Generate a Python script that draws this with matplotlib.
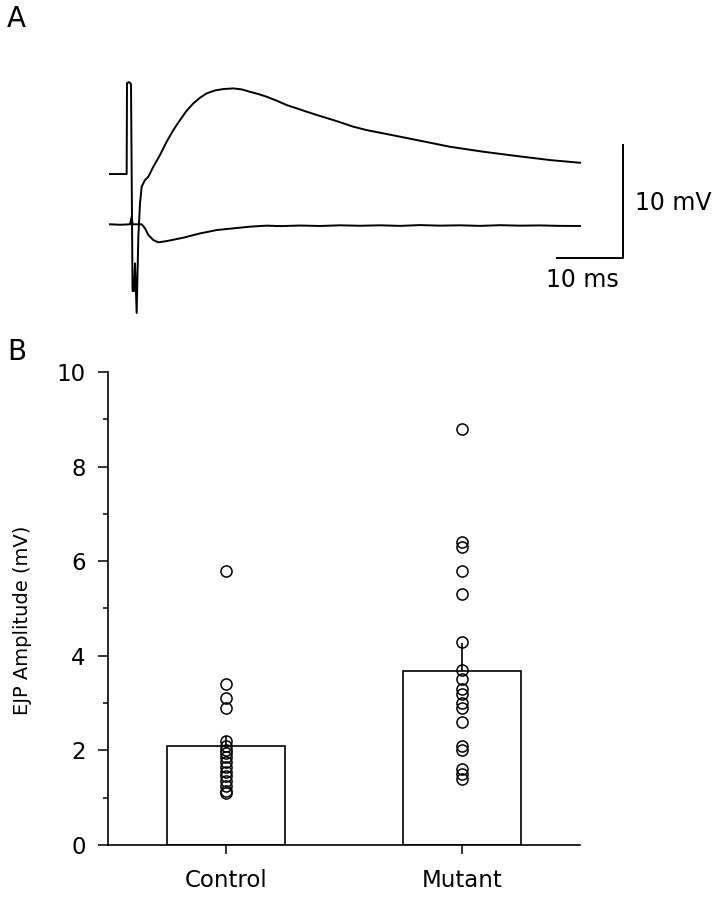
import matplotlib
matplotlib.use("Agg")
import matplotlib.pyplot as plt
import numpy as np

plt.rcParams['font.family'] = 'DejaVu Sans'

# Panel A: traces (time in ms, voltage in mV)
t_top = [0, 2.5, 2.55, 2.85, 3.15, 3.38, 3.6, 3.75, 4.0, 4.25, 4.5, 4.75, 5.25,
         5.75, 6.5, 7.5, 8.5, 9.5, 10.5, 11.5, 12.5, 13.5, 14.5, 15.75, 17.0,
         18.5, 19.75, 21.0, 22.25, 23.5, 25.0, 26.5, 28.0, 29.5, 31.5, 33.5,
         35.0, 36.5, 38.5, 41.0, 46.0, 51.0, 56.0, 61.0, 66.0, 70.5]
v_top = [0, 0, 8.07, 8.16, 7.99, -10.38, -10.38, -7.93, -12.33, -5.56, -2.6, -1.12, -0.53,
         -0.24, 0.65, 1.69, 2.87, 3.90, 4.79, 5.62, 6.27, 6.77, 7.16, 7.42, 7.54,
         7.60, 7.51, 7.30, 7.10, 6.86, 6.51, 6.12, 5.83, 5.53, 5.15, 4.79,
         4.50, 4.20, 3.90, 3.61, 3.02, 2.42, 1.98, 1.60, 1.24, 1.00]

t_bot = [0, 1.5, 3.0, 3.25, 3.4, 4.75, 5.25, 5.75, 6.5, 7.25, 8.5, 11.0, 13.5,
         16.0, 18.5, 21.0, 23.5, 25.5, 28.5, 31.5, 34.5, 37.5, 40.5, 43.5, 46.5,
         49.5, 52.5, 55.5, 58.5, 61.5, 64.5, 67.5, 70.5]
v_bot = [-4.46, -4.50, -4.46, -3.79, -4.46, -4.46, -4.82, -5.41, -5.86, -6.06, -5.95, -5.65, -5.27,
         -4.97, -4.82, -4.67, -4.58, -4.62, -4.57, -4.61, -4.55, -4.59, -4.55, -4.60, -4.53,
         -4.58, -4.55, -4.60, -4.54, -4.58, -4.56, -4.60, -4.61]

# Panel B: EJP amplitudes (mV)
groups = ['Control', 'Mutant']
bar_means = [2.1, 3.68]
bar_sem = [0.2, 0.6]
control_vals = [5.8, 3.4, 3.1, 2.9, 2.2, 2.1, 2.0, 1.95, 1.85, 1.75, 1.65,
                1.55, 1.45, 1.35, 1.25, 1.15, 1.1]
mutant_vals = [8.8, 6.4, 6.3, 5.8, 5.3, 4.3, 3.7, 3.5, 3.3, 3.2, 3.0, 2.9,
               2.6, 2.1, 2.0, 1.6, 1.5, 1.4]

fig = plt.figure(figsize=(7.18, 8.99), dpi=100)

# ---- Panel A
axA = fig.add_axes([0.13928, 0.63293, 0.75209, 0.30033])
axA.plot(t_top, v_top, color='black', lw=1.4)
axA.plot(t_bot, v_bot, color='black', lw=1.4)
axA.set_xlim(-1.5, 79.5)
axA.set_ylim(-13.84, 10.12)
axA.axis('off')
# scale bar
axA.plot([67.0, 76.95, 76.95], [-7.43, -7.43, 2.57], color='black', lw=1.4,
         clip_on=False)
axA.text(78.75, -3.19, '10 mV', fontsize=17, ha='left', va='baseline')
axA.text(70.87, -10.03, '10 ms', fontsize=17, ha='center', va='baseline')

# ---- Panel B
axB = fig.add_axes([0.1504, 0.0601, 0.6574, 0.5261])
x = np.arange(len(groups))
axB.bar(x, bar_means, width=0.5, facecolor='white', edgecolor='black',
        linewidth=1.2, zorder=1)
axB.errorbar(x, bar_means, yerr=[[0, 0], bar_sem], fmt='none', ecolor='black',
             elinewidth=1.2, capsize=0, zorder=2)
axB.plot([0] * len(control_vals), control_vals, 'o', mfc='none', mec='black',
         ms=8, mew=1.1, zorder=3)
axB.plot([1] * len(mutant_vals), mutant_vals, 'o', mfc='none', mec='black',
         ms=8, mew=1.1, zorder=3)

axB.set_xlim(-0.5, 1.5)
axB.set_ylim(0, 10)
axB.set_xticks(x)
axB.set_xticklabels(groups)
axB.set_yticks([0, 2, 4, 6, 8, 10])
axB.set_yticks([1, 3, 5, 7, 9], minor=True)
axB.spines['top'].set_visible(False)
axB.spines['right'].set_visible(False)
axB.spines['left'].set_linewidth(1.2)
axB.spines['bottom'].set_linewidth(1.2)
axB.tick_params(axis='y', which='major', length=7, width=1.1, labelsize=16.5, pad=9)
axB.tick_params(axis='y', which='minor', length=3.6, width=1.1)
axB.tick_params(axis='x', which='major', length=6.5, width=1.1, labelsize=16.5, pad=11)
axB.set_ylabel('EJP Amplitude (mV)', fontsize=14)
axB.yaxis.set_label_coords(-0.161, 0.476)

fig.text(0.00975, 0.9944, 'A', fontsize=20, ha='left', va='top')
fig.text(0.00975, 0.624, 'B', fontsize=20, ha='left', va='top')

fig.savefig('out.png', dpi=100, facecolor='white')
